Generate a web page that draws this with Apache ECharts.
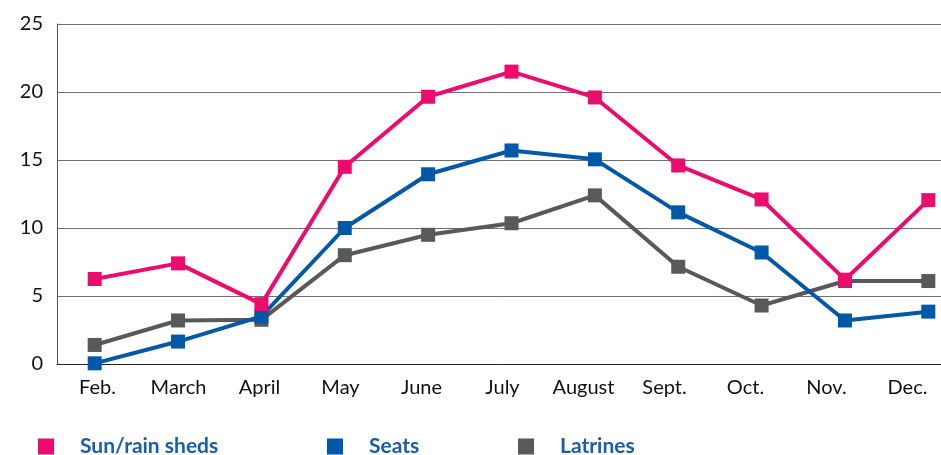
<!DOCTYPE html>
<html>
<head>
<meta charset="utf-8">
<script src="https://cdn.jsdelivr.net/npm/echarts@6/dist/echarts.min.js"></script>
<style>
  html, body { margin: 0; padding: 0; background: #fff; }
  #main { width: 941px; height: 455px; }
</style>
</head>
<body>
<div id="main"></div>
<script>
// categories
var months = ['Feb.', 'March', 'April', 'May', 'June', 'July', 'August', 'Sept.', 'Oct.', 'Nov.', 'Dec.'];

// series values
var sunRain = [6.25, 7.4, 4.4, 14.5, 19.65, 21.5, 19.6, 14.6, 12.1, 6.2, 12.05];
var seats = [0.05, 1.65, 3.5, 10.0, 13.95, 15.7, 15.05, 11.15, 8.2, 3.2, 3.85];
var latrines = [1.4, 3.2, 3.25, 8.0, 9.5, 10.35, 12.4, 7.15, 4.3, 6.1, 6.1];

// y ticks
var yMin = 0, yMax = 25, yStep = 5;

var pink = '#EC0C6E';
var blue = '#0058A9';
var grey = '#58595B';
var legendText = '#1A5DAA';
var font = 'Lato, "Open Sans", sans-serif';

var myChart = echarts.init(document.getElementById('main'));

function legendAt(left, name) {
  return {
    left: left,
    top: 436,
    padding: 0,
    icon: 'rect',
    itemWidth: 16,
    itemHeight: 16,
    selectedMode: false,
    data: [name],
    textStyle: {
      color: legendText,
      fontFamily: font,
      fontWeight: 'bold',
      fontSize: 21,
      padding: [0, 0, 0, 21]
    }
  };
}

var option = {
  backgroundColor: '#fff',
  animation: false,
  legend: [
    legendAt(38, 'Sun/rain sheds'),
    legendAt(327, 'Seats'),
    legendAt(518, 'Latrines')
  ],
  grid: [
    // visible axes / gridlines (runs past the right edge, as in the original)
    { left: 57, top: 24, width: 891, height: 340, outerBoundsMode: 'none' },
    // grid the lines are plotted on (markers sit slightly wider apart than the ticks)
    { left: 53, top: 24, width: 917, height: 340, outerBoundsMode: 'none' }
  ],
  xAxis: [
    {
      gridIndex: 0,
      type: 'category',
      data: months,
      boundaryGap: true,
      axisLine: { lineStyle: { color: '#222', width: 1 } },
      axisTick: { inside: true, length: 10, lineStyle: { color: '#222' } },
      axisLabel: { color: '#111', fontFamily: font, fontSize: 20, margin: 14 }
    },
    {
      gridIndex: 1,
      type: 'category',
      data: months,
      boundaryGap: true,
      show: false
    }
  ],
  yAxis: [
    {
      gridIndex: 0,
      type: 'value',
      min: yMin,
      max: yMax,
      interval: yStep,
      axisLine: { show: true, lineStyle: { color: '#555', width: 1 } },
      axisTick: { show: false },
      axisLabel: { color: '#111', fontFamily: font, fontSize: 20, margin: 14 },
      splitLine: { lineStyle: { color: '#6f6f6f', width: 1 } }
    },
    {
      gridIndex: 1,
      type: 'value',
      min: yMin,
      max: yMax,
      interval: yStep,
      show: false,
      splitLine: { show: false }
    }
  ],
  series: [
    {
      name: 'Latrines',
      type: 'line',
      xAxisIndex: 1,
      yAxisIndex: 1,
      data: latrines,
      symbol: 'rect',
      symbolSize: 14,
      color: grey,
      lineStyle: { width: 4, color: grey },
      itemStyle: { color: grey }
    },
    {
      name: 'Seats',
      type: 'line',
      xAxisIndex: 1,
      yAxisIndex: 1,
      data: seats,
      symbol: 'rect',
      symbolSize: 14,
      color: blue,
      lineStyle: { width: 4, color: blue },
      itemStyle: { color: blue }
    },
    {
      name: 'Sun/rain sheds',
      type: 'line',
      xAxisIndex: 1,
      yAxisIndex: 1,
      data: sunRain,
      symbol: 'rect',
      symbolSize: 14,
      color: pink,
      lineStyle: { width: 4, color: pink },
      itemStyle: { color: pink }
    }
  ]
};

myChart.setOption(option);
</script>
</body>
</html>
